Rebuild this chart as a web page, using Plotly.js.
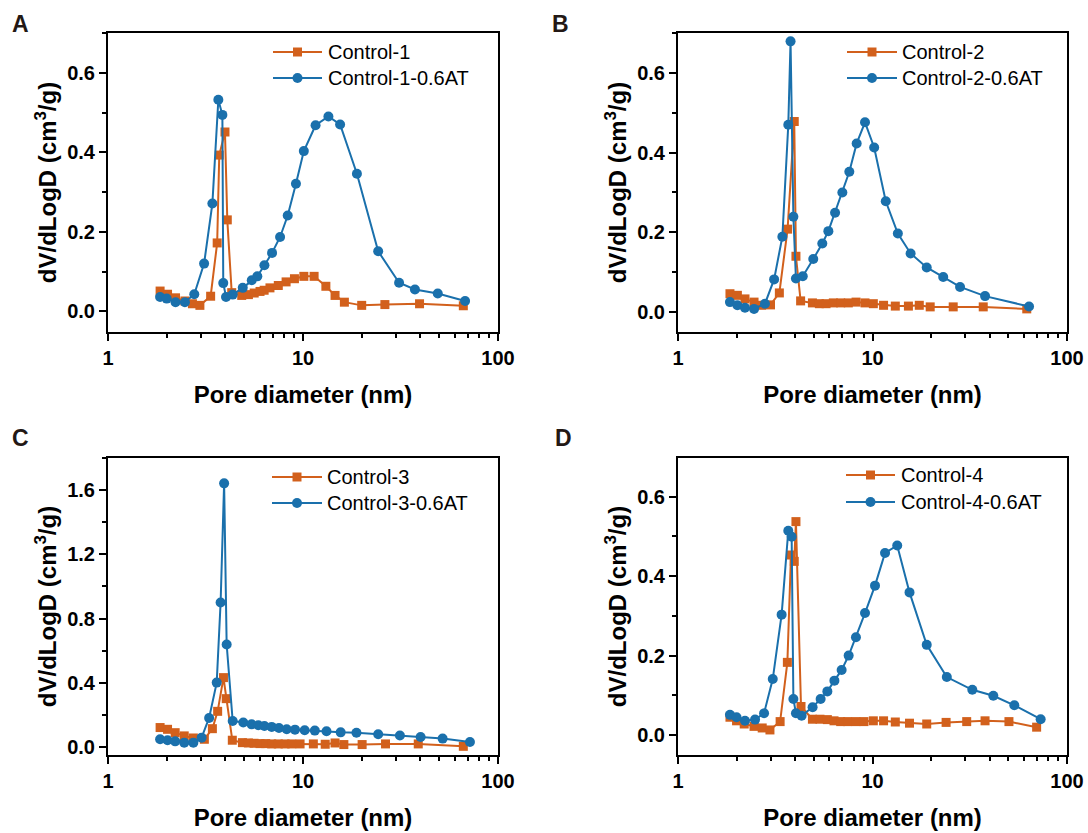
<!DOCTYPE html>
<html>
<head>
<meta charset="utf-8">
<script src="https://cdn.plot.ly/plotly-3.0.1.min.js"></script>
<style>
html,body{margin:0;padding:0;background:#fff}
#wrap{position:relative;width:1088px;height:833px}
.panel{position:absolute;left:0;top:0;width:1088px;height:833px}
</style>
</head>
<body>
<div id="wrap">
  <div id="pA" class="panel"></div>
  <div id="pB" class="panel"></div>
  <div id="pC" class="panel"></div>
  <div id="pD" class="panel"></div>
</div>
<script>
// ---------- Data ----------
// Panel A
const ctrl1X = [1.85,2.02,2.22,2.48,2.71,2.96,3.36,3.63,3.72,3.98,4.09,4.31,4.85,5.25,5.62,6.02,6.32,6.77,7.47,8.19,9.04,10.1,11.4,13.1,14.6,16.3,20.0,26.3,39.6,66.4];
const ctrl1Y = [0.051,0.043,0.034,0.026,0.019,0.015,0.038,0.172,0.393,0.451,0.230,0.047,0.040,0.042,0.046,0.050,0.053,0.059,0.065,0.074,0.082,0.088,0.088,0.063,0.040,0.023,0.015,0.017,0.019,0.014];
const at1X = [1.85,2.00,2.22,2.48,2.77,3.11,3.43,3.68,3.86,3.90,4.03,4.36,4.91,5.46,5.83,6.34,6.94,7.63,8.35,9.20,10.1,11.6,13.5,15.5,18.9,24.3,31.1,37.5,49.1,67.8];
const at1Y = [0.036,0.032,0.023,0.023,0.043,0.120,0.271,0.532,0.494,0.071,0.036,0.042,0.059,0.078,0.088,0.116,0.147,0.187,0.241,0.321,0.403,0.468,0.490,0.470,0.346,0.151,0.072,0.055,0.045,0.026];
// Panel B
const ctrl2X = [1.85,2.02,2.21,2.46,2.69,2.99,3.32,3.66,3.96,4.04,4.27,4.91,5.33,5.77,6.29,6.86,7.51,8.23,9.15,10.1,11.4,13.1,15.3,17.4,19.8,26.0,37.1,62.1];
const ctrl2Y = [0.046,0.042,0.033,0.025,0.017,0.018,0.048,0.208,0.478,0.140,0.028,0.023,0.021,0.021,0.023,0.023,0.023,0.025,0.023,0.021,0.017,0.015,0.015,0.017,0.013,0.013,0.013,0.008];
const at2X = [1.85,2.02,2.21,2.46,2.80,3.12,3.44,3.69,3.79,3.92,4.04,4.38,4.96,5.52,5.93,6.42,7.00,7.60,8.29,9.15,10.2,11.7,13.5,15.7,19.0,23.1,28.2,37.9,63.8];
const at2Y = [0.025,0.017,0.011,0.008,0.021,0.082,0.189,0.470,0.679,0.239,0.084,0.090,0.133,0.172,0.203,0.249,0.300,0.352,0.423,0.476,0.413,0.278,0.197,0.147,0.112,0.088,0.063,0.040,0.014];
// Panel C
const ctrl3X = [1.85,2.02,2.21,2.46,2.74,3.12,3.43,3.65,3.91,4.04,4.34,4.89,5.25,5.61,6.02,6.44,6.91,7.47,8.09,8.75,9.66,11.3,13.0,14.6,16.2,20.1,26.5,39.0,66.4];
const ctrl3Y = [0.121,0.110,0.089,0.069,0.056,0.048,0.114,0.222,0.432,0.301,0.042,0.027,0.025,0.023,0.021,0.021,0.019,0.019,0.019,0.019,0.019,0.019,0.017,0.025,0.015,0.015,0.019,0.019,0.004];
const at3X = [1.85,2.02,2.21,2.46,2.74,3.02,3.30,3.61,3.78,3.94,4.06,4.36,4.94,5.45,5.90,6.34,6.91,7.53,8.25,9.10,10.2,11.5,13.2,15.6,18.8,24.3,31.4,40.1,52.0,71.8];
const at3Y = [0.048,0.042,0.035,0.027,0.027,0.058,0.181,0.401,0.900,1.642,0.638,0.162,0.152,0.141,0.135,0.131,0.125,0.118,0.110,0.108,0.104,0.102,0.098,0.091,0.089,0.079,0.071,0.062,0.052,0.031];
// Panel D
const ctrl4X = [1.85,2.00,2.19,2.46,2.71,2.97,3.35,3.65,3.81,3.96,4.04,4.29,4.91,5.37,5.86,6.34,6.86,7.45,8.22,9.04,10.1,11.4,13.1,15.5,19.0,23.9,30.5,37.9,50.3,69.8];
const ctrl4Y = [0.045,0.036,0.028,0.022,0.018,0.013,0.034,0.183,0.453,0.437,0.537,0.072,0.040,0.040,0.039,0.036,0.034,0.034,0.034,0.034,0.036,0.036,0.033,0.030,0.028,0.032,0.034,0.036,0.034,0.020];
const at4X = [1.85,2.00,2.21,2.49,2.77,3.07,3.41,3.69,3.84,3.92,4.04,4.32,4.92,5.41,5.86,6.37,6.94,7.54,8.22,9.15,10.3,11.6,13.4,15.5,19.0,24.1,32.6,41.8,53.6,73.2];
const at4Y = [0.051,0.045,0.036,0.039,0.055,0.141,0.303,0.514,0.499,0.091,0.055,0.049,0.070,0.091,0.110,0.137,0.164,0.200,0.246,0.307,0.376,0.458,0.477,0.359,0.227,0.146,0.114,0.099,0.075,0.040];

const seriesNames = [["Control-1","Control-1-0.6AT"],["Control-2","Control-2-0.6AT"],["Control-3","Control-3-0.6AT"],["Control-4","Control-4-0.6AT"]];
const xMajorTicks = [1,10,100];
const xMinorTicks = [2,3,4,5,6,7,8,9,20,30,40,50,60,70,80,90];
const panelLetters = ["A","B","C","D"];

// ---------- Styling ----------
const ORANGE = '#D2601C';
const BLUE = '#1A70AC';
const FONT = 'Liberation Sans, Arial, sans-serif';
const W = 1088, H = 833;

const ctrlData = [[ctrl1X,ctrl1Y],[ctrl2X,ctrl2Y],[ctrl3X,ctrl3Y],[ctrl4X,ctrl4Y]];
const atData = [[at1X,at1Y],[at2X,at2Y],[at3X,at3Y],[at4X,at4Y]];
const divIds = ['pA','pB','pC','pD'];
// pixel geometry of the four frames: [left, right, top, bottom]
const frames = [[108,498,33,332],[678,1067,33,332],[108,498,458,755],[678,1067,458,755]];
const yRanges = [[-0.052,0.70],[-0.05,0.70],[-0.05,1.80],[-0.05,0.697]];
const yDticks = [0.2,0.2,0.4,0.2];
// legend key geometry (pixels): [line start x, line end x, text x, row1 y, row2 y]
const legendKeys = [[273,322,328,52,78],[847,897,902,52,78],[272,322,327,477,503],[846,895,901,475,502]];
const letterPos = [[20,24],[560,24],[20,438],[563,438]];

function px(x){ return x / W; }
function py(y){ return 1 - y / H; }

function xAxis(f) {
  return {
    type: 'log', range: [0, 2], domain: [f[0]/W, f[1]/W], anchor: 'y',
    tickmode: 'array', tickvals: xMajorTicks, ticktext: xMajorTicks.map(String),
    ticks: 'outside', ticklen: 7, tickwidth: 2, tickcolor: '#000',
    minor: {tickmode: 'array', tickvals: xMinorTicks, ticks: 'outside', ticklen: 4, tickwidth: 2, tickcolor: '#000', showgrid: false},
    showline: true, linewidth: 2, linecolor: '#000', mirror: true,
    showgrid: false, zeroline: false,
    tickfont: {family: FONT, size: 20, weight: 'bold', color: '#000'},
    title: {text: 'Pore diameter (nm)', font: {family: FONT, size: 24, weight: 'bold', color: '#000'}, standoff: 18}
  };
}
function yAxis(f, r, dt) {
  return {
    range: r, domain: [1 - f[3]/H, 1 - f[2]/H], anchor: 'x',
    tickmode: 'linear', tick0: 0, dtick: dt, tickformat: '.1f',
    ticks: 'outside', ticklen: 7, tickwidth: 2, tickcolor: '#000',
    minor: {dtick: dt/2, ticks: 'outside', ticklen: 4, tickwidth: 2, tickcolor: '#000', showgrid: false},
    showline: true, linewidth: 2, linecolor: '#000', mirror: true,
    showgrid: false, zeroline: false,
    tickfont: {family: FONT, size: 20, weight: 'bold', color: '#000'},
    title: {text: 'dV/dLogD (cm<sup>3</sup>/g)', font: {family: FONT, size: 24, weight: 'bold', color: '#000'}, standoff: 4}
  };
}

function legendItems(i) {
  const k = legendKeys[i];
  const mid = (k[0] + k[1]) / 2;
  const shapes = [];
  const annotations = [];
  const rows = [
    {y: k[3], color: ORANGE, kind: 'rect', r: 4.5, name: seriesNames[i][0]},
    {y: k[4], color: BLUE, kind: 'circle', r: 5, name: seriesNames[i][1]}
  ];
  rows.forEach(function(row){
    shapes.push({type: 'line', xref: 'paper', yref: 'paper', x0: px(k[0]), x1: px(k[1]), y0: py(row.y), y1: py(row.y),
      line: {color: row.color, width: 2}, layer: 'above'});
    shapes.push({type: row.kind, xref: 'paper', yref: 'paper',
      x0: px(mid - row.r), x1: px(mid + row.r), y0: py(row.y + row.r), y1: py(row.y - row.r),
      fillcolor: row.color, line: {width: 0}, layer: 'above'});
    annotations.push({text: row.name, xref: 'paper', yref: 'paper', x: px(k[2] - 2), y: py(row.y),
      xanchor: 'left', yanchor: 'middle', showarrow: false,
      font: {family: FONT, size: 20, color: '#000'}});
  });
  return {shapes: shapes, annotations: annotations};
}

for (let i = 0; i < 4; i++) {
  const traces = [
    {
      x: ctrlData[i][0], y: ctrlData[i][1], type: 'scatter', mode: 'lines+markers',
      name: seriesNames[i][0],
      line: {color: ORANGE, width: 2},
      marker: {symbol: 'square', size: 9, color: ORANGE, line: {width: 0}}
    },
    {
      x: atData[i][0], y: atData[i][1], type: 'scatter', mode: 'lines+markers',
      name: seriesNames[i][1],
      line: {color: BLUE, width: 2},
      marker: {symbol: 'circle', size: 10, color: BLUE, line: {width: 0}}
    }
  ];
  const leg = legendItems(i);
  const layout = {
    width: W, height: H, margin: {l: 0, r: 0, t: 0, b: 0},
    paper_bgcolor: 'rgba(0,0,0,0)', plot_bgcolor: 'rgba(0,0,0,0)',
    font: {family: FONT, color: '#000'},
    showlegend: false,
    xaxis: xAxis(frames[i]),
    yaxis: yAxis(frames[i], yRanges[i], yDticks[i]),
    shapes: leg.shapes,
    annotations: leg.annotations.concat([{
      text: panelLetters[i], xref: 'paper', yref: 'paper',
      x: px(letterPos[i][0]), y: py(letterPos[i][1]), xanchor: 'center', yanchor: 'middle',
      showarrow: false, font: {family: FONT, size: 23, weight: 'bold', color: '#231815'}
    }])
  };
  Plotly.newPlot(divIds[i], traces, layout, {displayModeBar: false});
}
</script>
</body>
</html>
